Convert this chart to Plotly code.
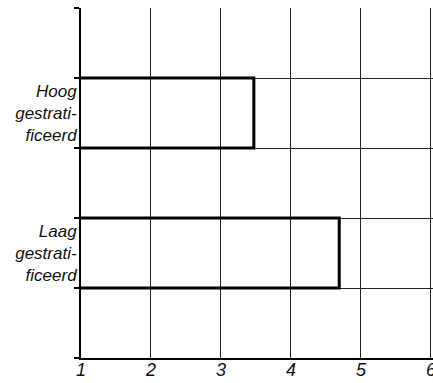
import plotly.graph_objects as go

# Data
categories = ["Laag<br>gestrati-<br>ficeerd", "Hoog<br>gestrati-<br>ficeerd"]
values = [4.69, 3.47]
x_ticks = [1, 2, 3, 4, 5, 6]
x_tick_labels = ["1", "2", "3", "4", "5", "6"]

# rows: empty, Laag, empty, Hoog, empty -> category centres
row_pos = [2 * i + 1.5 for i in range(len(categories))]

fig = go.Figure()
fig.add_trace(go.Bar(
    x=values,
    y=row_pos,
    orientation="h",
    width=1,
    marker=dict(color="rgba(0,0,0,0)", line=dict(color="black", width=3)),
    hoverinfo="skip",
))

font = dict(family="Liberation Sans, Arial, sans-serif", color="#111", style="italic")

fig.update_layout(
    width=433, height=383,
    margin=dict(l=81, r=0, t=8, b=25),
    paper_bgcolor="white", plot_bgcolor="white",
    showlegend=False,
    bargap=0,
    xaxis=dict(
        range=[1, 6.03],
        automargin=False,
        tickmode="array", tickvals=x_ticks, ticktext=x_tick_labels,
        showgrid=True, gridcolor="#222", gridwidth=1,
        showline=True, linecolor="black", linewidth=2,
        zeroline=False, ticks="",
        ticklabelstandoff=-6,
        ticklabeloverflow="allow",
        tickfont=dict(size=18, **font),
    ),
    yaxis=dict(
        range=[0, 5],
        automargin=False,
        tickmode="array", tickvals=row_pos, ticktext=categories,
        showgrid=False, zeroline=False,
        showline=True, linecolor="black", linewidth=2,
        ticks="",
        ticklabelstandoff=-1,
        tickfont=dict(size=17, **font),
        minor=dict(tickmode="linear", tick0=0, dtick=1, showgrid=True,
                   gridcolor="#222", gridwidth=1,
                   ticks="outside", ticklen=5, tickcolor="black", tickwidth=2),
    ),
)

fig.write_html(
    "out.html",
    config={"displayModeBar": False, "staticPlot": True},
    post_script="document.body.style.margin='0';document.body.style.overflow='hidden';",
)
